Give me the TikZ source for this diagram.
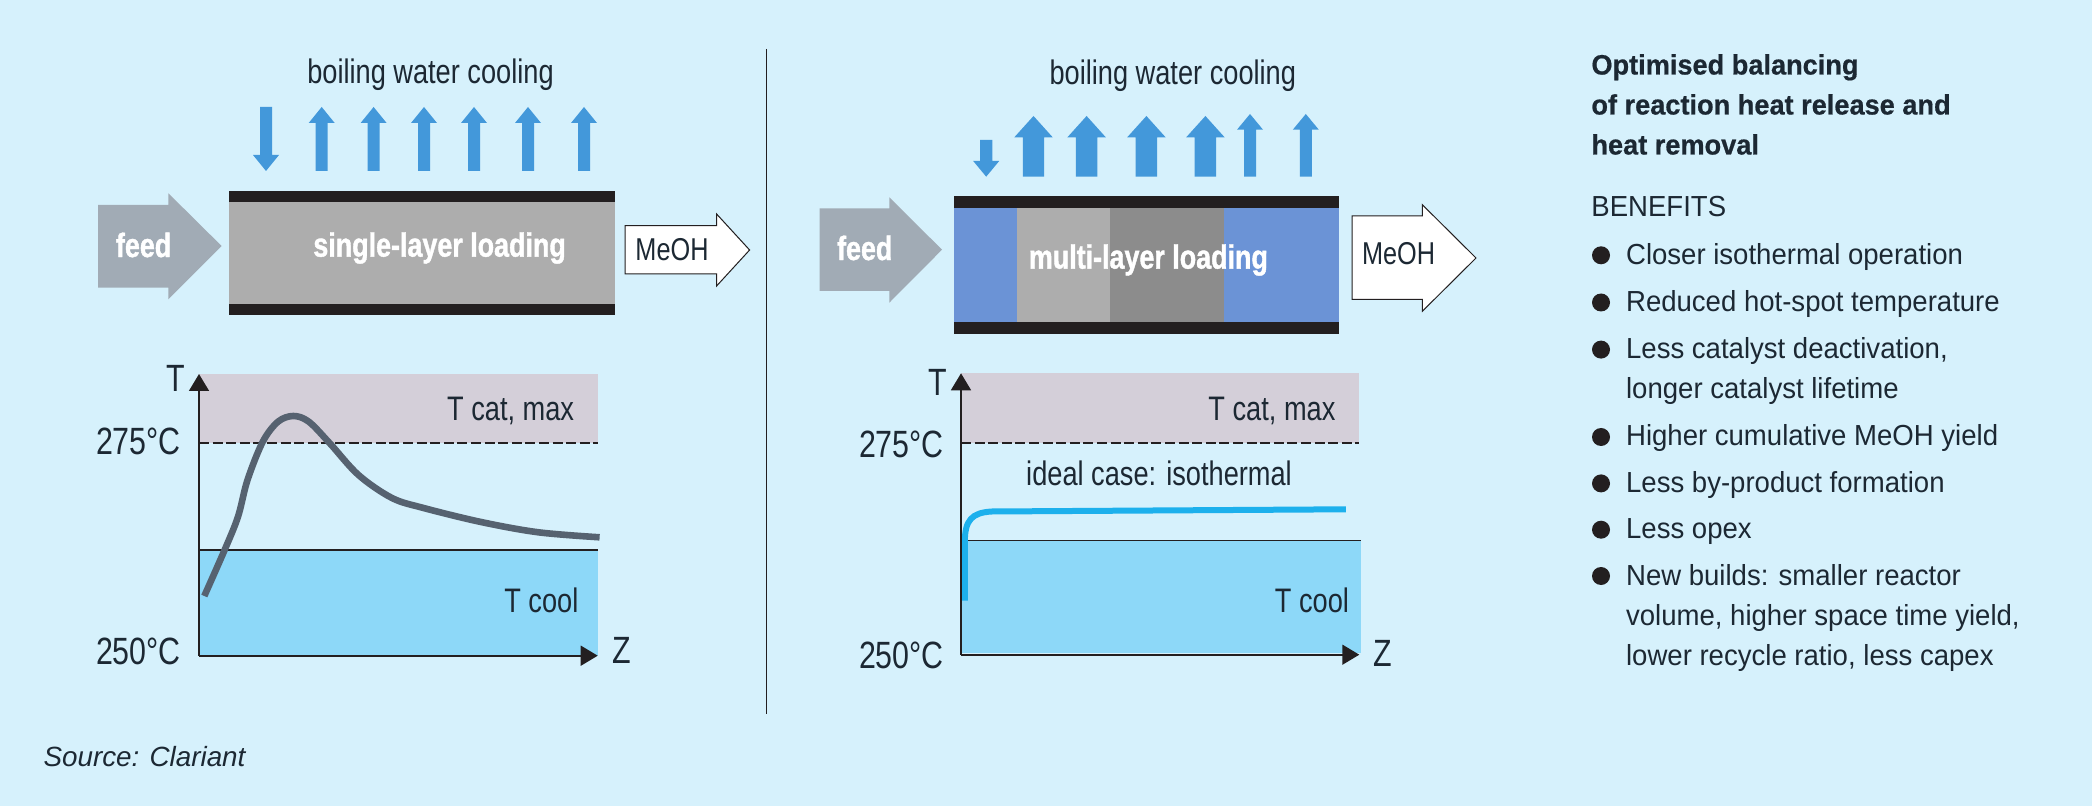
\documentclass[tikz,border=0pt]{standalone}
\usepackage{fontspec}
\setmainfont{Liberation Sans}
\newfontfamily\condfont[FakeStretch=0.80]{Liberation Sans}
\newfontfamily\loadfont[FakeStretch=0.80,FakeBold=1.2]{Liberation Sans Bold}
\newfontfamily\sidefont[FakeStretch=0.95]{Liberation Sans}
\newfontfamily\headfont[FakeStretch=0.97,FakeBold=0.6]{Liberation Sans Bold}
\usetikzlibrary{arrows.meta}
\definecolor{bgblue}{HTML}{D6F1FC}
\definecolor{heatblue}{HTML}{4398DA}
\definecolor{feedgrey}{HTML}{A1ABB5}
\definecolor{catgrey}{HTML}{D4CFD9}
\definecolor{coolblue}{HTML}{8DD8F8}
\definecolor{inkblack}{HTML}{231F20}
\definecolor{inktext}{HTML}{1C2833}
\definecolor{curvegrey}{HTML}{566270}
\definecolor{curveblue}{HTML}{1DB0EC}
\definecolor{layerblue}{HTML}{6B93D6}

\begin{document}
\begin{tikzpicture}[x=0.5pt,y=-0.5pt,
  txt/.style={inner sep=0pt, text=inktext, font=\condfont\fontsize{17}{20}\selectfont, text height=9pt, text depth=0pt},
  capt/.style={txt, text height=12pt},
  prodtxt/.style={capt, font=\condfont\fontsize{15.8}{20}\selectfont},
  tick/.style={txt, font=\condfont\fontsize{19}{22}\selectfont, text height=13pt},
  loadtxt/.style={inner sep=0pt, text=white, font=\loadfont\fontsize{16.8}{20}\selectfont},
  side/.style={inner sep=0pt, anchor=west, text=inktext, font=\sidefont\fontsize{14.5}{18}\selectfont, text height=10pt, text depth=0pt},
  head/.style={inner sep=0pt, anchor=west, text=inktext, font=\headfont\fontsize{14}{18}\selectfont, text height=10pt, text depth=0pt},
  blt/.style={circle, fill=inkblack, inner sep=0pt, minimum size=9pt},
  axis/.style={-{Triangle[length=8.5pt,width=10pt]}, inkblack, line width=0.8pt},
  limit/.style={inkblack, dash pattern=on 5pt off 1.8pt, line width=0.9pt},
  wall/.style={fill=inkblack},
  flow/.style={fill=feedgrey},
  prod/.style={fill=white, draw=inkblack, line width=0.5pt}]
\fill[bgblue] (0,0) rectangle (2092,806);
\useasboundingbox (0,0) rectangle (2092,806);
% left reactor
\node[txt] (coolL) at (430.5,75) {boiling water cooling};
\fill[heatblue] (260,107) -- (272,107) -- (272,155) -- (279,155) -- (266,171) -- (253,155) -- (260,155) -- cycle;
\foreach \x in {321.7,373.6,424,474,528,584}
  \fill[heatblue] (\x-6,171) -- (\x-6,123) -- (\x-13,123) -- (\x,107) -- (\x+13,123) -- (\x+6,123) -- (\x+6,171) -- cycle;
\fill[black!32] (229,202) rectangle (615,304);
\fill[wall] (229,191) rectangle (615,202);
\fill[wall] (229,304) rectangle (615,315);
\fill[flow] (98,205) -- (168.4,205) -- (168.4,193.3) -- (221.6,246) -- (168.4,299.3) -- (168.4,287.7) -- (98,287.7) -- cycle;
\node[loadtxt] (feedL) at (143.6,245) {feed};
\node[loadtxt] (loadL) at (439.6,248) {single-layer loading};
\filldraw[prod] (625,225.7) -- (716.6,225.7) -- (716.6,214) -- (749.6,250) -- (716.6,286) -- (716.6,274) -- (625,274) -- cycle;
\node[prodtxt] (meohL) at (672,249) {MeOH};
% left chart
\fill[catgrey] (199,374) rectangle (597.7,442.7);
\fill[coolblue] (199,550) rectangle (597.7,655.7);
\draw[inkblack, line width=0.8pt] (199,550) -- (597.7,550);
\draw[limit] (199,442.7) -- (597.7,442.7);
\draw[curvegrey, line width=3.3pt] plot[smooth, tension=0.55] coordinates {(204.3,596) (224.6,550) (238,516.7) (247.5,480) (262.8,441.7) (278,421.7) (293.4,416) (308.8,421.7) (329.8,443.3) (358.5,475) (392,498) (423.6,508) (481,522) (538.4,532.3) (599.6,537.3)};
\coordinate (originL) at (199,655.7);
\draw[axis] (originL) -- (199,374);
\draw[axis] (originL) -- (597.7,655.7);
\node[tick] (tL) at (176,379) {T};
\node[tick] (hiL) at (138.5,441.7) {275°C};
\node[tick] (loL) at (138.5,651.7) {250°C};
\node[tick] (zL) at (621.4,650) {Z};
\node[capt] (catL) at (510.6,409) {T cat, max};
\node[capt] (cL) at (541.3,600.7) {T cool};
\node[inner sep=0pt, text=inktext, font=\fontsize{13.9}{16}\selectfont\itshape] (src) at (144.5,756.5) {Source: Clariant};
% divider
\draw[inkblack, line width=0.7pt] (766.6,49) -- (766.6,714);
% right reactor
\node[txt] (coolR) at (1172.8,76) {boiling water cooling};
\fill[heatblue] (980,140) -- (992.4,140) -- (992.4,161) -- (999.2,161) -- (986.2,176.7) -- (973.2,161) -- (980,161) -- cycle;
\foreach \x in {1033.5,1086.6,1146.4,1205.4}
  \fill[heatblue] (\x-10.7,176.7) -- (\x-10.7,137.3) -- (\x-19.2,137.3) -- (\x,116) -- (\x+19.2,137.3) -- (\x+10.7,137.3) -- (\x+10.7,176.7) -- cycle;
\foreach \x in {1250,1305.8}
  \fill[heatblue] (\x-6,176.7) -- (\x-6,129.7) -- (\x-13,129.7) -- (\x,114) -- (\x+13,129.7) -- (\x+6,129.7) -- (\x+6,176.7) -- cycle;
\fill[layerblue] (954,207.7) rectangle (1017,322);
\fill[black!32] (1017,207.7) rectangle (1109.8,322);
\fill[black!45] (1109.8,207.7) rectangle (1223.7,322);
\fill[layerblue] (1223.7,207.7) rectangle (1338.8,322);
\fill[wall] (954,196) rectangle (1338.8,207.7);
\fill[wall] (954,322) rectangle (1338.8,334);
\fill[flow] (819.6,208.3) -- (889.3,208.3) -- (889.3,197.3) -- (942,249.7) -- (889.3,302.7) -- (889.3,291) -- (819.6,291) -- cycle;
\node[loadtxt] (feedR) at (864.7,248) {feed};
\node[loadtxt] (loadR) at (1148.4,260) {multi-layer loading};
\filldraw[prod] (1352,216) -- (1422.3,216) -- (1422.3,204.7) -- (1476,258) -- (1422.3,311.3) -- (1422.3,299.3) -- (1352,299.3) -- cycle;
\node[prodtxt] (meohR) at (1398.6,253) {MeOH};
% right chart
\fill[catgrey] (961,373.3) rectangle (1358.5,442.7);
\fill[coolblue] (961,540.3) rectangle (1361,653.3);
\draw[inkblack, line width=0.5pt] (961,540.3) -- (1361,540.3);
\draw[limit] (961,442.7) -- (1358.5,442.7);
\draw[curveblue, line width=3pt] (964.8,600.7) -- (964.8,542) .. controls (964.8,520) and (972,512.5) .. (992,511.5) -- (1345.9,509.3);
\coordinate (originR) at (961,654.7);
\draw[axis] (originR) -- (961,373.3);
\draw[axis] (originR) -- (1359.3,654.7);
\node[tick] (tR) at (937.6,383) {T};
\node[tick] (hiR) at (901.5,445) {275°C};
\node[tick] (loR) at (901.5,655) {250°C};
\node[tick] (zR) at (1382.7,653) {Z};
\node[capt] (catR) at (1271.9,409) {T cat, max};
\node[capt] (cR) at (1312,600.7) {T cool};
\node[txt] (ideal) at (1159,476.7) {ideal case: isothermal};
% benefits
\node[head] (h1) at (1591,64.5) {Optimised balancing};
\node[head] (h2) at (1591,104.5) {of reaction heat release and};
\node[head] (h3) at (1591,144.5) {heat removal};
\node[side] (ben) at (1591,206.8) {BENEFITS};
\foreach \y/\line in {254.3/Closer isothermal operation, 301.5/Reduced hot-spot temperature, 348.6/{Less catalyst deactivation,}, 436/Higher cumulative MeOH yield, 482.4/Less by-product formation, 528.7/Less opex, 575/New builds: smaller reactor}{
  \node[blt] at (1601,\y+1) {};
  \node[side] at (1625.7,\y) {\line};
}
\node[side] (l3b) at (1625.7,388.6) {longer catalyst lifetime};
\node[side] (l7b) at (1625.7,615) {volume, higher space time yield,};
\node[side] (l7c) at (1625.7,655) {lower recycle ratio, less capex};
\end{tikzpicture}
\end{document}
